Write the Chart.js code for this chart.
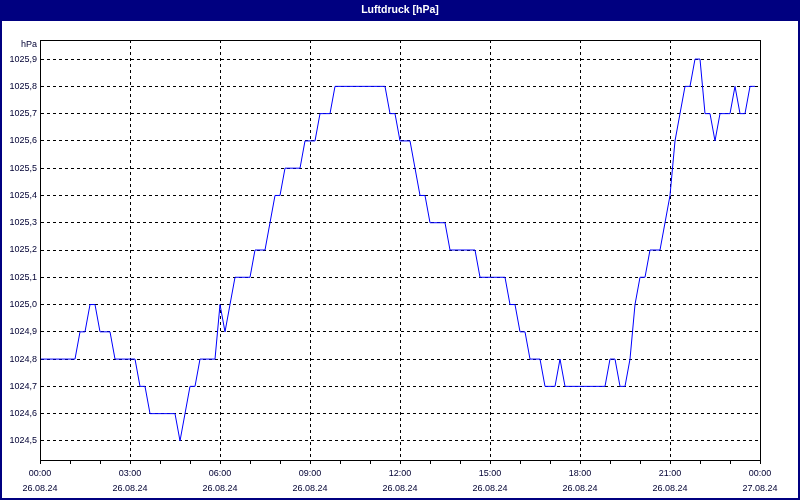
<!DOCTYPE html>
<html>
<head>
<meta charset="utf-8">
<script src="https://cdn.jsdelivr.net/npm/chart.js@4.4.1/dist/chart.umd.min.js"></script>
<style>
  html, body { margin: 0; padding: 0; background: #fff; }
</style>
</head>
<body>
<canvas id="luftdruck" width="800" height="500"></canvas>
<script>
// Luftdruck alle 10 Minuten, ab 26.08.24 00:00
const pressure = [
  1024.8, 1024.8, 1024.8, 1024.8, 1024.8, 1024.8,
  1024.8, 1024.8, 1024.9, 1024.9, 1025.0, 1025.0,
  1024.9, 1024.9, 1024.9, 1024.8, 1024.8, 1024.8,
  1024.8, 1024.8, 1024.7, 1024.7, 1024.6, 1024.6,
  1024.6, 1024.6, 1024.6, 1024.6, 1024.5, 1024.6,
  1024.7, 1024.7, 1024.8, 1024.8, 1024.8, 1024.8,
  1025.0, 1024.9, 1025.0, 1025.1, 1025.1, 1025.1,
  1025.1, 1025.2, 1025.2, 1025.2, 1025.3, 1025.4,
  1025.4, 1025.5, 1025.5, 1025.5, 1025.5, 1025.6,
  1025.6, 1025.6, 1025.7, 1025.7, 1025.7, 1025.8,
  1025.8, 1025.8, 1025.8, 1025.8, 1025.8, 1025.8,
  1025.8, 1025.8, 1025.8, 1025.8, 1025.7, 1025.7,
  1025.6, 1025.6, 1025.6, 1025.5, 1025.4, 1025.4,
  1025.3, 1025.3, 1025.3, 1025.3, 1025.2, 1025.2,
  1025.2, 1025.2, 1025.2, 1025.2, 1025.1, 1025.1,
  1025.1, 1025.1, 1025.1, 1025.1, 1025.0, 1025.0,
  1024.9, 1024.9, 1024.8, 1024.8, 1024.8, 1024.7,
  1024.7, 1024.7, 1024.8, 1024.7, 1024.7, 1024.7,
  1024.7, 1024.7, 1024.7, 1024.7, 1024.7, 1024.7,
  1024.8, 1024.8, 1024.7, 1024.7, 1024.8, 1025.0,
  1025.1, 1025.1, 1025.2, 1025.2, 1025.2, 1025.3,
  1025.4, 1025.6, 1025.7, 1025.8, 1025.8, 1025.9,
  1025.9, 1025.7, 1025.7, 1025.6, 1025.7, 1025.7,
  1025.7, 1025.8, 1025.7, 1025.7, 1025.8, 1025.8
];
const sampleMinutes = 10;

const yTicks = [1024.5, 1024.6, 1024.7, 1024.8, 1024.9, 1025.0, 1025.1,
  1025.2, 1025.3, 1025.4, 1025.5, 1025.6, 1025.7, 1025.8, 1025.9];
const xTickHours = [0, 3, 6, 9, 12, 15, 18, 21, 24];
const xTickTimes = ["00:00", "03:00", "06:00", "09:00", "12:00", "15:00", "18:00", "21:00", "00:00"];
const xTickDates = ["26.08.24", "26.08.24", "26.08.24", "26.08.24", "26.08.24",
  "26.08.24", "26.08.24", "26.08.24", "27.08.24"];

const navy = "#000080";
const textColor = "#000033";
const fontFamily = "'Liberation Sans', Arial, sans-serif";

let lo = Math.min(...pressure);
let hi = Math.max(...pressure);
let pad = (hi - lo) * 0.05;

const framePlugin = {
  id: "frame",
  beforeDraw(chart) {
    const ctx = chart.ctx;
    ctx.save();
    ctx.fillStyle = "#ffffff";
    ctx.fillRect(0, 0, chart.width, chart.height);
    ctx.fillStyle = navy;
    ctx.fillRect(0, 0, chart.width, 21);
    ctx.restore();
  },
  afterDraw(chart) {
    const ctx = chart.ctx;
    const a = chart.chartArea;
    ctx.save();
    // Rahmen um die Zeichenfläche
    ctx.strokeStyle = "#000";
    ctx.lineWidth = 1;
    ctx.strokeRect(Math.round(a.left) + 0.5, Math.round(a.top) + 0.5,
      Math.round(a.right - a.left), Math.round(a.bottom - a.top));
    // Einheit oben links
    ctx.fillStyle = textColor;
    ctx.font = "9px " + fontFamily;
    ctx.textAlign = "right";
    ctx.textBaseline = "middle";
    ctx.fillText("hPa", a.left - 3, a.top + 4.5);
    // äußerer Rahmen
    ctx.strokeStyle = navy;
    ctx.lineWidth = 2;
    ctx.strokeRect(1, 1, chart.width - 2, chart.height - 2);
    ctx.restore();
  },
};

let ctx = document.getElementById("luftdruck").getContext("2d");
new Chart(ctx, {
  type: "line",
  data: {
    datasets: [
      {
        label: "Luftdruck",
        data: pressure.map((v, i) => ({ x: (i * sampleMinutes) / 60, y: v })),
        borderColor: "#0000ff",
        borderWidth: 1,
        pointRadius: 0,
        tension: 0,
        fill: false,
      },
    ],
  },
  options: {
    responsive: false,
    animation: false,
    layout: {
      padding: { top: 0, left: 0, right: 0, bottom: 2 },
    },
    plugins: {
      legend: { display: false },
      tooltip: { enabled: false },
      title: {
        display: true,
        text: "Luftdruck [hPa]",
        color: "#ffffff",
        font: { family: fontFamily, size: 10.5, weight: "bold" },
        padding: { top: 4, bottom: 23.4 },
      },
    },
    scales: {
      x: {
        type: "linear",
        min: 0,
        max: 24,
        afterBuildTicks: (scale) => {
          let ticks = [];
          for (let h = 0; h <= 24; h++) ticks.push({ value: h });
          scale.ticks = ticks;
        },
        afterFit: (scale) => {
          scale.height = 38;
        },
        ticks: {
          autoSkip: false,
          maxRotation: 0,
          padding: 2,
          color: textColor,
          font: { family: fontFamily, size: 9, lineHeight: "15px" },
          callback: (value) => {
            let k = xTickHours.indexOf(value);
            return k >= 0 ? [xTickTimes[k], xTickDates[k]] : "";
          },
        },
        grid: {
          color: (c) => (c.tick && xTickHours.includes(c.tick.value) ? "#000" : "transparent"),
          tickColor: "#000",
          tickLength: 4,
          lineWidth: 1,
        },
        border: { display: true, color: "#000", width: 1, dash: [3, 3] },
      },
      y: {
        type: "linear",
        min: lo - pad,
        max: hi + pad,
        afterBuildTicks: (scale) => {
          scale.ticks = yTicks.map((v) => ({ value: v }));
        },
        afterFit: (scale) => {
          scale.width = 40;
        },
        ticks: {
          padding: 3,
          color: textColor,
          font: { family: fontFamily, size: 9 },
          callback: (value) => value.toFixed(1).replace(".", ","),
        },
        grid: {
          color: "#000",
          drawTicks: false,
          lineWidth: 1,
        },
        border: { display: true, color: "#000", width: 1, dash: [3, 3] },
      },
      // leere Achse rechts, nur für den Abstand
      yRight: {
        type: "linear",
        position: "right",
        min: lo - pad,
        max: hi + pad,
        afterFit: (scale) => {
          scale.width = 40;
        },
        ticks: { display: false },
        grid: { drawOnChartArea: false, drawTicks: false },
        border: { display: true, color: "#000", width: 1 },
      },
    },
  },
  plugins: [framePlugin],
});
</script>
</body>
</html>
